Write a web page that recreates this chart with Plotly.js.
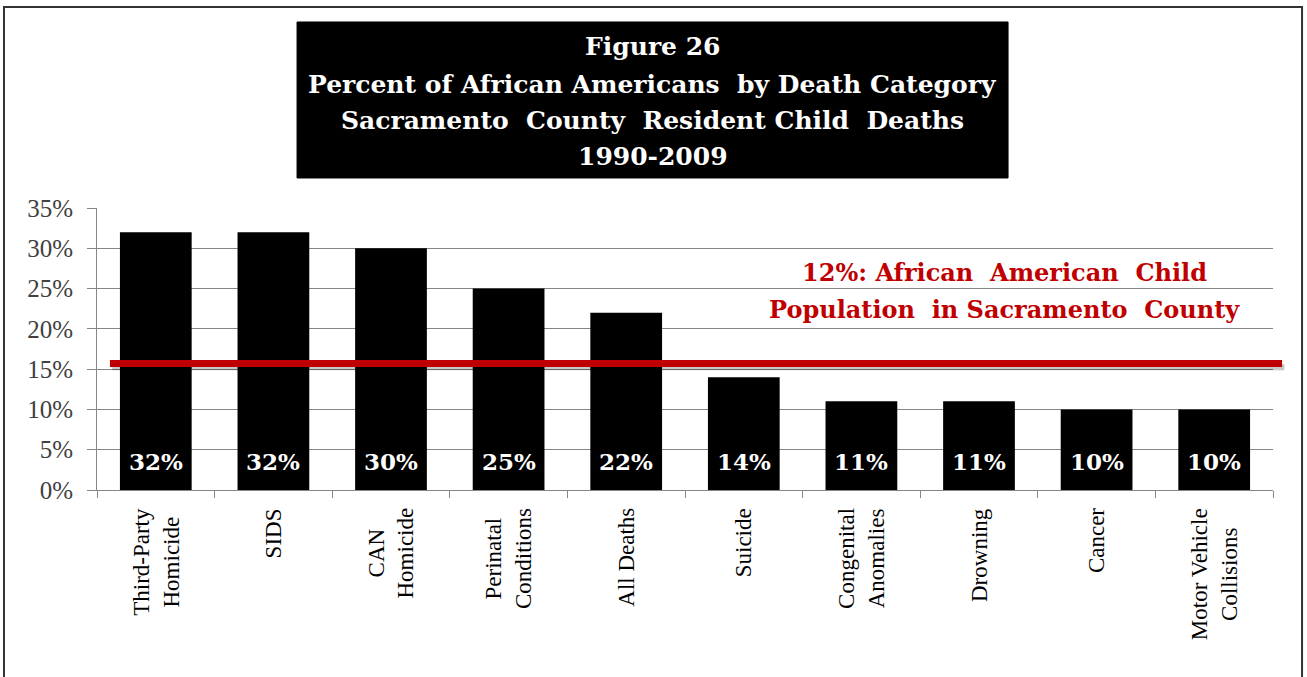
<!DOCTYPE html>
<html>
<head>
<meta charset="utf-8">
<script src="https://cdn.plot.ly/plotly-3.0.1.min.js"></script>
<style>html,body{margin:0;padding:0;background:#fff;}#chart{width:1307px;height:677px;}</style>
</head>
<body>
<div id="chart"></div>
<script>
const categories = [
  "Third-Party<br>Homicide", "SIDS", "CAN<br>Homicide", "Perinatal<br>Conditions",
  "All Deaths", "Suicide", "Congenital<br>Anomalies", "Drowning", "Cancer",
  "Motor Vehicle<br>Collisions"
];
const percents = [32, 32, 30, 25, 22, 14, 11, 11, 10, 10];
const referenceLineValue = 15.7;
const referenceLabelLines = ["12%: African  American  Child", "Population  in Sacramento  County"];
const titleLines = [
  "Figure 26",
  "Percent of African Americans  by Death Category",
  "Sacramento  County  Resident Child  Deaths",
  "1990-2009"
];
const yTicks = [0, 5, 10, 15, 20, 25, 30, 35];

const serif = "Liberation Serif";
const boldSerif = "DejaVu Serif";

// plot area: 97..1273 px horizontally, 208..490 px vertically
const H = 282;
const pyToPaper = py => (490 - py) / H;

const trace = {
  type: "bar",
  x: categories,
  y: percents,
  marker: {color: "#000000"},
  hoverinfo: "skip"
};

const barLabels = categories.map((c, i) => ({
  xref: "x", yref: "y", x: c, y: 0, yanchor: "bottom", yshift: 13,
  showarrow: false, text: percents[i] + "%",
  font: {family: boldSerif, size: 23, color: "#ffffff", weight: "bold"}
}));

// category labels, rotated, lines centred on each other
const catLabels = categories.map(c => ({
  xref: "x", yref: "paper", x: c, y: 0, yanchor: "top", xanchor: "center", yshift: -16,
  showarrow: false, text: c, textangle: -90, align: "center",
  font: {family: serif, size: 23, color: "#000000"}
}));

const titleTextY = [47, 84, 121, 157];
const titleAnns = titleLines.map((t, i) => ({
  xref: "paper", yref: "paper", x: 0.4724, y: pyToPaper(titleTextY[i]),
  xanchor: "center", yanchor: "middle", showarrow: false, text: t,
  font: {family: boldSerif, size: 25, color: "#ffffff", weight: "bold"}
}));

const refTextY = [272, 309];
const refAnns = referenceLabelLines.map((t, i) => ({
  xref: "paper", yref: "paper", x: 0.772, y: pyToPaper(refTextY[i]),
  xanchor: "center", yanchor: "middle", showarrow: false, text: t,
  font: {family: boldSerif, size: 24, color: "#C00000", weight: "bold"}
}));

const layout = {
  width: 1307, height: 677,
  margin: {l: 97, r: 34, t: 208, b: 187},
  paper_bgcolor: "#ffffff",
  plot_bgcolor: "#ffffff",
  showlegend: false,
  bargap: 0.39,
  xaxis: {
    type: "category",
    showticklabels: false,
    showline: true, linecolor: "#868686", linewidth: 1,
    ticks: "outside", tickson: "boundaries", ticklen: 7, tickcolor: "#868686",
    showgrid: false, fixedrange: true
  },
  yaxis: {
    range: [0, 35],
    tickvals: yTicks,
    ticktext: yTicks.map(v => v + "%"),
    tickfont: {family: serif, size: 25, color: "#404040"},
    ticklabelstandoff: 9,
    showline: true, linecolor: "#868686", linewidth: 1,
    ticks: "outside", ticklen: 9, tickcolor: "#868686",
    showgrid: true, gridcolor: "#868686", gridwidth: 1,
    zeroline: false, fixedrange: true
  },
  shapes: [
    {type: "rect", xref: "paper", yref: "paper",
     x0: -0.0791, x1: 1.0247, y0: -0.70, y1: 1.7128,
     line: {color: "#333333", width: 2}, fillcolor: "rgba(0,0,0,0)", layer: "below"},
    {type: "rect", xref: "paper", yref: "paper",
     x0: 0.1701, x1: 0.7747, y0: 1.1064, y1: 1.6596,
     line: {color: "#000000", width: 1}, fillcolor: "#000000", layer: "below"},
    {type: "line", xref: "paper", yref: "y",
     x0: 0.013, x1: 1.0097, y0: referenceLineValue - 0.45, y1: referenceLineValue - 0.45,
     line: {color: "rgba(0,0,0,0.22)", width: 6}},
    {type: "line", xref: "paper", yref: "y",
     x0: 0.011, x1: 1.0077, y0: referenceLineValue, y1: referenceLineValue,
     line: {color: "#C00000", width: 7}}
  ],
  annotations: titleAnns.concat(refAnns, barLabels, catLabels)
};

Plotly.newPlot("chart", [trace], layout, {displayModeBar: false, staticPlot: true});
</script>
</body>
</html>
